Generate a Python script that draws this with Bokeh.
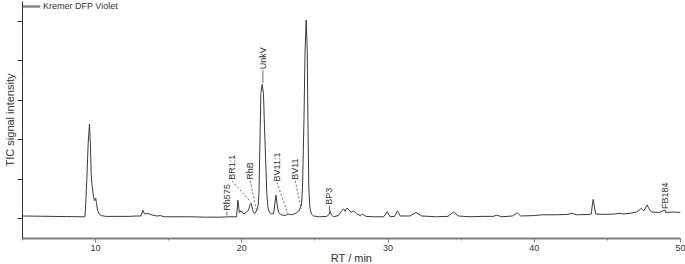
import math
from bokeh.plotting import figure
from bokeh.models import Range1d, SingleIntervalTicker, Legend, LegendItem, CustomJSTickFormatter
from bokeh.embed import file_html
from bokeh.resources import INLINE
from bokeh.core.properties import value

# Retention time (min) and TIC signal intensity (arbitrary units)
rt = [5.0, 6.0, 7.0, 8.0, 9.0, 9.26, 9.30, 9.40, 9.49, 9.58, 9.64, 9.70, 9.76, 9.86, 9.92,
      9.97, 10.01, 10.06, 10.14, 10.25, 10.4, 10.7, 11.5, 12.3, 12.8, 13.1, 13.23, 13.35,
      13.5, 13.7, 13.9, 14.2, 14.43, 14.7, 15.5, 16.5, 17.5, 18.5, 19.2, 19.64, 19.73,
      19.83, 19.97, 20.12, 20.3, 20.45, 20.57, 20.64, 20.76, 20.87, 21.03, 21.12, 21.17,
      21.26, 21.30, 21.39, 21.48, 21.55, 21.71, 21.78, 21.88, 22.05, 22.17, 22.25, 22.33,
      22.42, 22.51, 22.7, 23.0, 23.15, 23.4, 23.7, 23.9, 24.0, 24.08, 24.15, 24.25, 24.32,
      24.40, 24.47, 24.52, 24.58, 24.65, 24.75, 24.9, 25.3, 25.8, 25.95, 26.04, 26.12,
      26.27, 26.6, 26.84, 26.95, 27.06, 27.18, 27.34, 27.47, 27.63, 27.86, 28.1, 28.25,
      28.5, 29.0, 29.7, 29.95, 30.14, 30.45, 30.64, 30.83, 31.5, 31.91, 32.3, 33.3, 34.1,
      34.46, 34.8, 35.6, 36.5, 37.2, 37.43, 37.8, 38.5, 38.84, 39.07, 40.0, 40.5, 41.5,
      42.3, 42.55, 42.9, 43.8, 43.9, 43.97, 44.03, 44.09, 44.2, 44.7, 45.5, 45.9, 46.07,
      46.6, 46.99, 47.33, 47.49, 47.72, 47.85, 48.02, 48.57, 48.92, 49.03, 49.49, 50.0]
tic = [0.07, 0.065, 0.06, 0.055, 0.05, 0.05, 0.2, 1.0, 1.9, 2.40, 1.9, 1.1, 0.84, 0.55, 0.46,
       0.50, 0.52, 0.38, 0.2, 0.12, 0.08, 0.06, 0.06, 0.06, 0.07, 0.07, 0.21, 0.12,
       0.13, 0.12, 0.09, 0.07, 0.08, 0.05, 0.05, 0.05, 0.04, 0.04, 0.05, 0.05, 0.47,
       0.16, 0.2, 0.12, 0.16, 0.22, 0.36, 0.39, 0.2, 0.13, 0.22, 0.35, 0.63,
       2.32, 3.17, 3.40, 3.17, 2.32, 0.63, 0.3, 0.16, 0.12, 0.13, 0.35, 0.60,
       0.35, 0.16, 0.1, 0.08, 0.12, 0.1, 0.14, 0.2, 0.28, 0.35, 0.8, 2.5, 4.2,
       5.03, 4.3, 2.5, 0.8, 0.3, 0.12, 0.07, 0.05, 0.06, 0.1, 0.2, 0.1,
       0.05, 0.08, 0.2, 0.25, 0.19, 0.27, 0.22, 0.16, 0.2, 0.12, 0.08, 0.12,
       0.06, 0.05, 0.05, 0.18, 0.05, 0.06, 0.2, 0.07, 0.07, 0.16, 0.07, 0.05, 0.06,
       0.17, 0.07, 0.05, 0.06, 0.06, 0.09, 0.05, 0.07, 0.15, 0.07, 0.08, 0.1, 0.1,
       0.11, 0.14, 0.1, 0.11, 0.12, 0.35, 0.49, 0.35, 0.12, 0.11, 0.12, 0.14, 0.12,
       0.14, 0.17, 0.26, 0.2, 0.35, 0.25, 0.17, 0.16, 0.22, 0.16, 0.17, 0.16]

# Peak annotations
peak_names = ["Rh575", "BR1:1", "RhB", "UnkV", "BV11:1", "BV11", "BP3", "FB184"]
label_rt = [18.98, 19.32, 20.57, 21.44, 22.40, 23.65, 25.99, 48.97]
label_tic = [0.18, 0.96, 0.96, 3.76, 0.92, 0.96, 0.33, 0.22]
mark_rt = [18.98, 20.64, 21.03, 21.44, 23.15, 24.06, 25.99, 48.97]
mark_tic = [0.08, 0.41, 0.16, 3.43, 0.13, 0.25, 0.20, 0.15]
dashed = [False, True, True, False, True, True, False, False]

series_name = "Kremer DFP Violet"
x_ticks_interval = 10
y_ticks_interval = 1

FONT = "Liberation Sans"
TXT = "#333333"
LINE = "#3a3a3a"
FRAME_W, FRAME_H = 658, 237
X0, X1, Y0, Y1 = 5, 50, -0.5, 5.5

p = figure(frame_width=FRAME_W, frame_height=FRAME_H, output_backend="svg", toolbar_location=None,
           x_range=Range1d(X0, X1), y_range=Range1d(Y0, Y1),
           min_border_left=22, min_border_right=5, min_border_top=1, min_border_bottom=26)
p.outline_line_color = None
p.xgrid.visible = False
p.ygrid.visible = False
p.background_fill_color = "white"

r = p.line(rt, tic, line_color=LINE, line_width=1)

# leader lines
sx0 = [a for a, d in zip(label_rt, dashed) if not d]
sy0 = [a for a, d in zip(label_tic, dashed) if not d]
sx1 = [a for a, d in zip(mark_rt, dashed) if not d]
sy1 = [a for a, d in zip(mark_tic, dashed) if not d]
dx0 = [a for a, d in zip(label_rt, dashed) if d]
dy0 = [a for a, d in zip(label_tic, dashed) if d]
dx1 = [a for a, d in zip(mark_rt, dashed) if d]
dy1 = [a for a, d in zip(mark_tic, dashed) if d]
p.segment(sx0, sy0, sx1, sy1, line_color="#444444", line_width=0.8)
p.segment(dx0, dy0, dx1, dy1, line_color="#444444", line_width=0.8, line_dash="2 2")

p.text(x=label_rt, y=label_tic, text=peak_names, angle=math.pi / 2,
       text_align="left", text_baseline="middle", y_offset=-1,
       text_font=value(FONT), text_font_size=value("9px"), text_color=TXT)

# legend key line: 18 px long at the frame's top-left corner (computed from the layout)
ux = (X1 - X0) / FRAME_W
uy = (Y1 - Y0) / FRAME_H
key_y = Y1 - 4.5 * uy
swatch = p.segment(x0=[X0 + 0.5 * ux], y0=[key_y], x1=[X0 + 18 * ux], y1=[key_y],
                   line_color="#555555", line_width=1)

legend = Legend(items=[LegendItem(label=series_name, renderers=[swatch])],
                location="top_left")
legend.margin = 0
legend.padding = 0
legend.border_line_color = None
legend.background_fill_alpha = 0
legend.glyph_width = 18
legend.glyph_height = 9
legend.label_height = 9
legend.label_standoff = 3
legend.label_text_font = FONT
legend.label_text_font_size = "9px"
legend.label_text_color = TXT
p.add_layout(legend)

xa = p.xaxis[0]
xa.ticker = SingleIntervalTicker(interval=x_ticks_interval, num_minor_ticks=2)
xa.axis_label = "RT / min"
xa.axis_line_color = "#808080"
xa.axis_line_width = 2
xa.major_tick_line_color = "#808080"
xa.minor_tick_line_color = "#808080"
xa.major_tick_in = 0
xa.major_tick_out = 4
xa.minor_tick_in = 0
xa.minor_tick_out = 2
xa.major_label_standoff = 2
xa.major_label_text_font = FONT
xa.major_label_text_font_size = "9px"
xa.major_label_text_color = TXT
xa.axis_label_standoff = -2
xa.axis_label_text_font = FONT
xa.axis_label_text_font_size = "11px"
xa.axis_label_text_font_style = "normal"
xa.axis_label_text_color = TXT

ya = p.yaxis[0]
ya.ticker = SingleIntervalTicker(interval=y_ticks_interval, num_minor_ticks=0)
ya.formatter = CustomJSTickFormatter(code="return '';")
ya.axis_label = "TIC signal intensity"
ya.axis_line_color = "#333333"
ya.axis_line_width = 1
ya.major_tick_line_color = "#333333"
ya.major_tick_in = 0
ya.major_tick_out = 5
ya.minor_tick_line_color = None
ya.major_label_standoff = 0
ya.axis_label_standoff = 2
ya.axis_label_text_font = FONT
ya.axis_label_text_font_size = "11px"
ya.axis_label_text_font_style = "normal"
ya.axis_label_text_color = TXT

html = file_html(p, INLINE)
html = html.replace("</head>", "<style>html,body{margin:0;padding:0;overflow:hidden;}</style></head>", 1)
open("out.html", "w").write(html)
